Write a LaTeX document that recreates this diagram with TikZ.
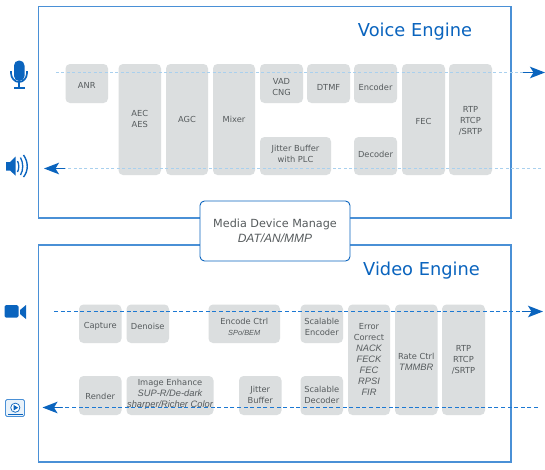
\documentclass[tikz,border=0pt]{standalone}
\usepackage{fontspec}
\setmainfont{DejaVu Sans}
\newfontfamily\itf{Liberation Sans}[ItalicFont=* Italic]
\usetikzlibrary{arrows.meta}
\definecolor{frameblue}{HTML}{4A90D6}
\definecolor{iconblue}{HTML}{0A64BE}
\definecolor{dashblue}{HTML}{1C78D2}
\definecolor{boxgray}{HTML}{DBDEDF}
\definecolor{txtgray}{HTML}{565B5D}
\definecolor{lightdash}{HTML}{A9D0EE}
\newcommand{\ital}[2][9.3]{{\itf\itshape\fontsize{#1}{#1}\selectfont #2}}
% \boxat[text shift]{name}{x1}{x2}{y1}{y2}{text}
\newcommand{\boxat}[6][0]{%
  \node[blk,minimum width=#4-#3,minimum height=#6-#5] (#2) at ({(#3+#4)/2},{(#5+#6)/2}) {};
  \boxtext{#1}{#2}}
\newcommand{\boxtext}[3]{\node[blktxt] (#2t) at ([yshift=-#1pt]#2.center) {#3}}
\tikzset{
  x=1pt,y=-1pt,
  frm/.style={draw=frameblue,line width=1.2pt,fill=white},
  blk/.style={fill=boxgray,rounded corners=4.5pt,inner sep=0pt},
  blktxt/.style={inner sep=0pt,text=txtgray,align=center,font=\fontsize{8.3}{11}\selectfont},
  eng/.style={text=iconblue,inner sep=0pt,font=\fontsize{17.8}{18}\selectfont},
  vflow/.style={draw=lightdash,line width=0.7pt,dash pattern=on 3pt off 2.4pt},
  vdflow/.style={draw=dashblue,line width=1pt,dash pattern=on 4pt off 2.6pt},
  tip/.style={draw=iconblue,line width=1.6pt,-{Stealth[length=15pt,width=11.5pt,inset=3.5pt,color=iconblue]}},
  icon/.style={fill=iconblue,draw=none},
}
\begin{document}
\begin{tikzpicture}
\useasboundingbox (0,0) rectangle (545,469);
% frames
\node[frm,minimum width=472.5pt,minimum height=211.5pt,inner sep=0pt] (voice) at (274.75,112.25) {};
\node[frm,minimum width=472.5pt,minimum height=217pt,inner sep=0pt] (video) at (274.75,353.5) {};
\node[eng,anchor=base] (vt) at (415,36) {Voice Engine};
\node[eng,anchor=base] (dt) at (421.5,275) {Video Engine};
% voice blocks
\boxat[1.5]{anr}{65.5}{108}{64}{103}{ANR};
\boxat[-1]{aec}{118.5}{161}{64}{175}{AEC\\AES};
\boxat{agc}{166}{208}{64}{175}{AGC};
\boxat{mix}{213}{255}{64}{175}{Mixer};
\boxat[3.5]{vad}{260}{303}{64}{103}{VAD\\CNG};
\boxat[3.5]{dtmf}{307}{350}{64}{103}{DTMF};
\boxat[3.5]{enc}{354}{397}{64}{103}{Encoder};
\boxat[1.5]{fec}{402}{445}{64}{175}{FEC};
\boxat[1.5]{rtp}{449}{492}{64}{175}{RTP\\RTCP\\/SRTP};
\boxat[-2]{jit}{260}{331}{137}{175}{Jitter Buffer\\with PLC};
\boxat[-2]{dec}{354}{397}{137}{175}{Decoder};
% video blocks
\boxat[2.5]{cap}{79}{121.5}{304.5}{343}{Capture};
\boxat[2.5]{den}{126.5}{169}{304.5}{343}{Denoise};
\boxat[3.5]{ectl}{208.5}{280}{304.5}{343}{Encode Ctrl\\\ital[7.4]{SPo/BEM}};
\boxat[3]{senc}{300.5}{343}{304.5}{343}{Scalable\\Encoder};
\boxat{err}{348}{390}{304.5}{415}{Error\\Correct\\\ital{NACK}\\\ital{FECK}\\\ital{FEC}\\\ital{RPSI}\\\ital{FIR}};
\boxat[2]{rate}{395}{437.5}{304.5}{415}{Rate Ctrl\\\ital{TMMBR}};
\boxat{vrtp}{442}{485}{304.5}{415}{RTP\\RTCP\\/SRTP};
\boxat[1]{ren}{79}{121.5}{376}{415}{Render};
\boxat[-1.5]{img}{126.5}{213.5}{376}{415}{Image Enhance\\\ital{SUP-R/De-dark}\\\ital{sharper/Richer Color}};
\boxat[-1]{vjit}{239}{281.5}{376}{415}{Jitter\\Buffer};
\boxat[-1]{sdec}{300.5}{343}{376}{415}{Scalable\\Decoder};
% media box
\node[draw=iconblue,line width=0.9pt,fill=white,rounded corners=4.5pt,minimum width=150pt,minimum height=60pt,
  inner sep=0pt,align=center,text=txtgray,font=\fontsize{11.2}{15}\selectfont] (media) at (275,231)
  {Media Device Manage\\\ital[12]{DAT/AN/MMP}};
% flow end points
\coordinate (a1) at (56,72.5); \coordinate (a2) at (523,72.5); \coordinate (a3) at (545,72.5);
\coordinate (b1) at (541,168.5); \coordinate (b2) at (65,168.5); \coordinate (b3) at (44,168.5);
\coordinate (c1) at (54,311.5); \coordinate (c2) at (521.5,311.5); \coordinate (c3) at (543,311.5);
\coordinate (d1) at (538,407.5); \coordinate (d2) at (62,407.5); \coordinate (d3) at (42.5,407.5);
\draw[vflow] (a1) -- (a2);
\draw[vflow] (b1) -- (b2);
\draw[vdflow] (c1) -- (c2);
\draw[vdflow] (d1) -- (d2);
\draw[tip] (a2) -- (a3);
\draw[tip] (b2) -- (b3);
\draw[tip] (c2) -- (c3);
\draw[tip] (d2) -- (d3);
% microphone
\fill[icon,rounded corners=5pt] (14,60.5) rectangle (24.5,81);
\draw[iconblue,line width=1.7pt] (11,71) -- (11,73) arc[start angle=180,end angle=0,x radius=8,y radius=9] -- (27,71);
\fill[icon] (18.3,81) rectangle (20.2,87);
\fill[icon] (14,86.6) rectangle (24.5,88.5);
% speaker
\fill[icon] (6,162) -- (10,162) -- (15.5,156.5) -- (15.5,175.5) -- (10,170.5) -- (6,170.5) -- cycle;
\draw[iconblue,line width=1.3pt] (17.5,161) .. controls (19.2,164) and (19.2,169) .. (17.5,172);
\draw[iconblue,line width=1.3pt] (20.5,157.5) .. controls (23.5,163) and (23.5,170) .. (20.5,175);
\draw[iconblue,line width=1.4pt] (23.5,155) .. controls (28.5,162) and (28.5,171) .. (23.5,177);
% camera
\fill[icon,rounded corners=1.5pt] (4.5,305) rectangle (18.5,317.7);
\fill[icon] (20,310) -- (26,305) -- (26,319) -- (20,314) -- cycle;
% player
\draw[draw=frameblue,line width=0.9pt,fill=frameblue!12,rounded corners=1.5pt] (5.5,399.5) rectangle (24.5,416.5);
\fill[iconblue] (8,413.7) rectangle (22.5,414.6);
\draw[iconblue,line width=0.7pt,fill=white] (15.3,407.7) circle[radius=4.6];
\fill[icon] (13.7,405) -- (18.2,407.7) -- (13.7,410.4) -- cycle;
\end{tikzpicture}
\end{document}
